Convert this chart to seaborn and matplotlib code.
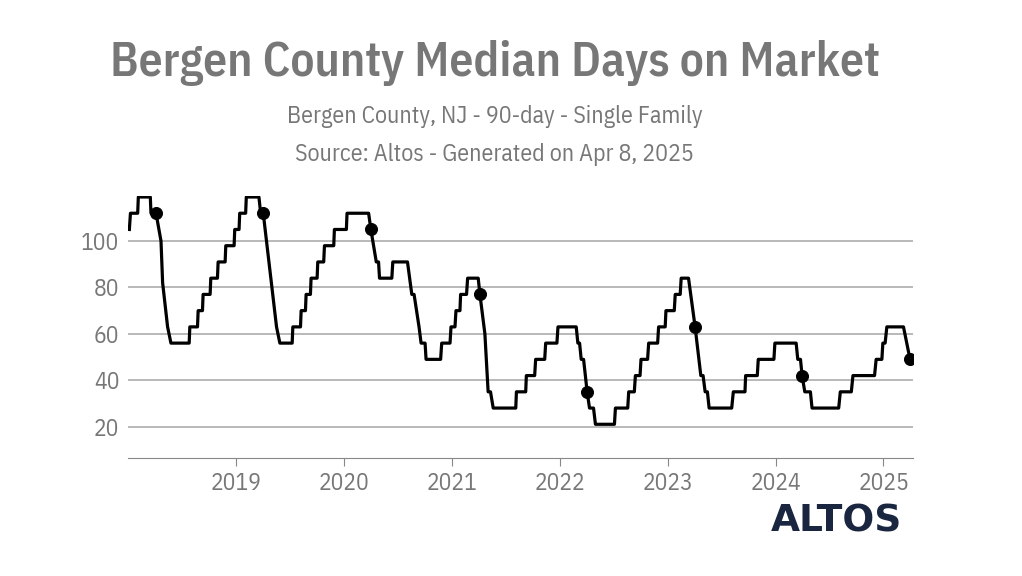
import matplotlib
matplotlib.use("Agg")
import matplotlib.pyplot as plt
import seaborn as sns
import pandas as pd
from matplotlib import font_manager as fm

dates = [2018.015,2018.025,2018.092,2018.098,2018.209,2018.215,2018.246,2018.262,2018.308,2018.323,2018.369,2018.4,
 2018.569,2018.575,2018.646,2018.652,2018.692,2018.698,2018.763,2018.769,2018.831,2018.837,2018.902,2018.908,2018.985,2018.991,
 2019.031,2019.037,2019.092,2019.098,2019.215,2019.231,2019.255,2019.378,2019.409,2019.523,2019.529,2019.6,2019.606,2019.646,
 2019.652,2019.692,2019.698,2019.754,2019.76,2019.815,2019.822,2019.908,2019.914,2020.025,2020.031,2020.231,2020.252,2020.302,
 2020.323,2020.332,2020.446,2020.455,2020.591,2020.631,2020.652,2020.698,2020.717,2020.754,2020.763,2020.898,2020.908,2020.985,
 2020.994,2021.031,2021.04,2021.077,2021.083,2021.138,2021.148,2021.246,2021.262,2021.308,2021.338,2021.36,2021.385,2021.594,
 2021.6,2021.686,2021.692,2021.769,2021.778,2021.862,2021.871,2021.975,2021.985,2022.154,2022.169,2022.185,2022.2,2022.222,
 2022.255,2022.277,2022.314,2022.332,2022.508,2022.517,2022.631,2022.64,2022.692,2022.702,2022.745,2022.754,2022.815,2022.825,
 2022.908,2022.917,2022.978,2022.985,2023.062,2023.071,2023.117,2023.126,2023.194,2023.255,2023.308,2023.329,2023.348,2023.369,
 2023.385,2023.594,2023.609,2023.717,2023.723,2023.831,2023.84,2023.985,2023.994,2024.191,2024.206,2024.231,2024.246,2024.271,
 2024.323,2024.338,2024.585,2024.6,2024.702,2024.717,2024.917,2024.932,2024.985,2024.994,2025.015,2025.031,2025.185,2025.246]
days = [105,112,112,119,119,112,112,112,100,82,63,56,
 56,63,63,70,70,77,77,84,84,91,91,98,98,105,
 105,112,112,119,119,112,112,63,56,56,63,63,70,70,
 77,77,84,84,91,91,98,98,105,105,112,112,105,91,
 91,84,84,91,91,77,77,63,56,56,49,49,56,56,
 63,63,70,70,77,77,84,84,77,60,35,35,28,28,
 35,35,42,42,49,49,56,56,63,63,56,56,49,49,
 35,28,28,21,21,28,28,35,35,42,42,49,49,56,
 56,63,63,70,70,77,77,84,84,63,42,42,35,35,
 28,28,35,35,42,42,49,49,56,56,49,49,42,35,
 35,28,28,35,35,42,42,49,49,56,56,63,63,49]
dot_dates = [2018.262,2019.255,2020.252,2021.262,2022.255,2023.255,2024.246,2025.246]
dot_days = [112,112,105,77,35,63,42,49]
years = [2019,2020,2021,2022,2023,2024,2025]
yticks = [20,40,60,80,100]

df = pd.DataFrame({"date": dates, "days": days})
dots = pd.DataFrame({"date": dot_dates, "days": dot_days})

def pick(target_weight):
    best = None
    for f in fm.fontManager.ttflist:
        nm = (f.fname + " " + f.name)
        if ("Condensed" not in nm and "Narrow" not in nm) or f.style != "normal":
            continue
        if "Italic" in f.fname or "Oblique" in f.fname:
            continue
        w = f.weight if isinstance(f.weight, int) else 400
        score = abs(w - target_weight)
        if best is None or score < best[0]:
            best = (score, f.fname)
    if best:
        return fm.FontProperties(fname=best[1])
    return fm.FontProperties(family="Roboto")

hfont = pick(600)
tfont = fm.FontProperties(fname=hfont.get_file())
for f in fm.fontManager.ttflist:
    if f.name == fm.FontProperties(fname=hfont.get_file()).get_name() and f.style == "normal" and f.weight in (400, "normal", "regular") and "Italic" not in f.fname:
        tfont = fm.FontProperties(fname=f.fname)
        break

fig = plt.figure(figsize=(10.22,5.76), dpi=100)
ax = fig.add_axes([0.125,0.205,0.768,0.455])
gray = "#777777"
for y in yticks:
    ax.axhline(y, color="#b3b3b3", lw=1.3, zorder=0)
sns.lineplot(data=df, x="date", y="days", ax=ax, color="black", lw=2.3, sort=False, estimator=None)
sns.scatterplot(data=dots, x="date", y="days", ax=ax, color="black", s=75, edgecolor="black", zorder=5)
ax.set_xlim(2018.0, 2025.27)
ax.set_ylim(6.5, 119.5)
ax.set_xticks(years)
ax.set_xticklabels([str(y) for y in years])
ax.set_yticks(yticks)
ax.set_xlabel(""); ax.set_ylabel("")
for s in ["top","right","left"]:
    ax.spines[s].set_visible(False)
ax.spines["bottom"].set_color("#888888")
ax.tick_params(axis="x", colors="#888888", length=6, labelcolor=gray, pad=4)
ax.tick_params(axis="y", length=0, labelcolor=gray, pad=6)
for lab in ax.get_xticklabels()+ax.get_yticklabels():
    lab.set_fontproperties(tfont); lab.set_fontsize(17)

t = fig.text(0.484, 0.89, "Bergen County Median Days on Market", ha="center", va="center",
         fontproperties=hfont, fontsize=50, color="#777777")
subs = []
for txt, yy in [("Bergen County, NJ - 90-day - Single Family", 0.798),
                ("Source: Altos - Generated on Apr 8, 2025", 0.732)]:
    subs.append(fig.text(0.484, yy, txt, ha="center", va="center", fontproperties=tfont, fontsize=19, color=gray))
fig.canvas.draw()
w = t.get_window_extent().width
t.set_fontsize(50 * 770.0 / w)
ws = subs[0].get_window_extent().width
for s_ in subs:
    s_.set_fontsize(19 * 415.0 / ws)
fig.text(0.883, 0.094, "ALTOS", ha="right", va="center", fontsize=27, fontweight="bold",
         color="#1a2540", family="DejaVu Sans")
fig.savefig("out.png", dpi=100)
